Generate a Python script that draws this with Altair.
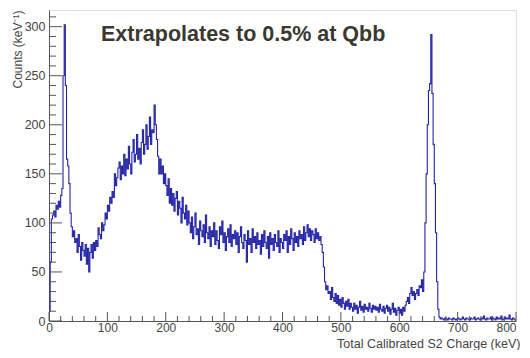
import altair as alt
import pandas as pd

# Histogram: 2 keV bins from 0 to 800 keV (counts per keV)
BIN_WIDTH = 2
counts_000_100 = [
    10, 60, 104, 108, 112, 106, 118, 114, 122, 116, 128, 135, 250, 302, 240, 165, 158, 140, 110, 96,   # 0-40
    86, 92, 80, 84, 70, 88, 76, 62, 80, 72, 66, 78, 58, 74, 50, 70, 78, 64, 80, 72,                   # 40-80
]
counts_080_200 = [
    82, 76, 95, 88, 84, 100, 92, 98, 110, 104, 118, 112, 126, 120, 132, 126, 150, 138, 146, 156,      # 80-120
    162, 144, 158, 150, 170, 148, 165, 155, 178, 160, 150, 172, 185, 162, 170, 190, 165, 176, 160, 182,  # 120-160
    195, 170, 180, 200, 175, 188, 208, 180, 195, 192, 220, 200, 185, 168, 150, 165, 150, 158, 140, 150,  # 160-200
]
counts_200_320 = [
    138, 128, 145, 120, 135, 118, 130, 112, 125, 132, 108, 122, 115, 100, 126, 110, 104, 118, 98, 112,  # 200-240
    100, 90, 106, 84, 96, 110, 88, 94, 78, 102, 92, 86, 98, 80, 108, 90, 84, 96, 76, 92,              # 240-280
    86, 100, 78, 92, 82, 74, 96, 88, 102, 80, 90, 72, 86, 94, 80, 98, 76, 88, 84, 92,                 # 280-320
]
counts_320_480 = [
    78, 90, 70, 86, 96, 80, 74, 88, 82, 60, 92, 78, 84, 70, 94, 80, 86, 74, 90, 78,                   # 320-360
    82, 68, 88, 76, 92, 80, 74, 86, 64, 90, 78, 84, 72, 88, 80, 76, 92, 70, 84, 80,                   # 360-400
    74, 88, 82, 92, 70, 86, 78, 94, 84, 72, 90, 80, 86, 76, 92, 84, 88, 78, 96, 82,                   # 400-440
    90, 98, 86, 94, 82, 92, 88, 80, 94, 84, 90, 82, 86, 78, 70, 55, 40, 32, 36, 28,                   # 440-480
]
counts_480_640 = [
    30, 22, 34, 24, 20, 28, 18, 26, 16, 22, 14, 24, 18, 12, 20, 15, 22, 12, 18, 14,                   # 480-520
    10, 18, 12, 16, 8, 14, 20, 11, 15, 9, 17, 12, 14, 10, 18, 13, 9, 16, 12, 15,                      # 520-560
    11, 14, 9, 17, 12, 10, 15, 8, 13, 16, 10, 14, 7, 12, 18, 9, 13, 6, 11, 14,                        # 560-600
    8, 12, 6, 14, 10, 16, 20, 24, 18, 28, 34, 26, 30, 22, 28, 32, 26, 36, 34, 42,                     # 600-640
]
counts_640_800 = [
    30, 50, 100, 150, 200, 235, 242, 292, 232, 180, 140, 90, 40, 12, 4, 2, 3, 2, 1, 3,                # 640-680
    2, 1, 3, 2, 2, 1, 3, 2, 1, 2, 3, 2, 1, 2, 4, 2, 1, 3, 2, 2,                                       # 680-720
    1, 3, 2, 2, 4, 1, 2, 3, 2, 1, 3, 2, 5, 2, 1, 3, 2, 2, 4, 1,                                       # 720-760
    3, 2, 1, 4, 2, 3, 2, 5, 1, 2, 4, 2, 3, 2, 6, 2, 1, 3, 2, 1,                                       # 760-800
]
counts = (counts_000_100 + counts_080_200 + counts_200_320
          + counts_320_480 + counts_480_640 + counts_640_800)
assert len(counts) == 400, len(counts)

x_major = [0, 100, 200, 300, 400, 500, 600, 700, 800]
x_minor = [v for v in range(0, 801, 20) if v % 100 != 0]
y_major = [0, 50, 100, 150, 200, 250, 300]
y_minor = [v for v in range(0, 311, 10) if v % 50 != 0]

title_text = "Extrapolates to 0.5% at Qbb"
x_title = "Total Calibrated S2 Charge (keV)"
y_title = "Counts (keV⁻¹)"

W, H = 467, 311
X_DOMAIN = [0, 800]
Y_DOMAIN = [0, 317]

edges = [i * BIN_WIDTH for i in range(len(counts))]
hist = pd.DataFrame({"e": edges + [edges[-1] + BIN_WIDTH], "c": counts + [counts[-1]]})

xs = alt.Scale(domain=X_DOMAIN, nice=False, zero=False)
ys = alt.Scale(domain=Y_DOMAIN, nice=False)

FONT = "Liberation Sans"

ax_x = alt.Axis(
    values=x_major, format="d", title=x_title, ticks=False, tickSize=0,
    labelPadding=1, labelFlush=False, grid=False, domainColor="#555", labelColor="#444",
    labelAlign={"condition": {"test": "datum.value >= 800", "value": "right"}, "value": "center"},
    labelFontSize=12, titleFontSize=12.5, titleColor="#444",
    titleFontWeight="normal", titleAlign="right",
    titleX=W + 4, titleY=26, titleBaseline="alphabetic", labelFont=FONT, titleFont=FONT,
)
ax_y = alt.Axis(
    values=y_major, format="d", title=y_title, ticks=False, tickSize=0,
    labelPadding=4, labelFlush=False, grid=False, domainColor="#555", labelColor="#444",
    labelFontSize=12.5, titleFontSize=12, titleColor="#444",
    titleFontWeight="normal", titleAngle=-90, titleAlign="right",
    titleBaseline="middle", titleX=-32, titleY=0, labelFont=FONT, titleFont=FONT,
)

line = alt.Chart(hist).mark_line(
    interpolate="step-after", color="#2424a6", strokeWidth=1.1
).encode(
    x=alt.X("e:Q", scale=xs, axis=ax_x),
    y=alt.Y("c:Q", scale=ys, axis=ax_y),
)

def xticks(vals, length):
    d = pd.DataFrame({"v": vals})
    return alt.Chart(d).mark_rule(color="#555", strokeWidth=1).encode(
        x=alt.X("v:Q", scale=xs, axis=ax_x),
        y=alt.value(H), y2=alt.value(H - length),
    )

def yticks(vals, length):
    d = pd.DataFrame({"v": vals})
    return alt.Chart(d).mark_rule(color="#555", strokeWidth=1).encode(
        y=alt.Y("v:Q", scale=ys, axis=ax_y),
        x=alt.value(0), x2=alt.value(length),
    )

title = alt.Chart(pd.DataFrame({"t": [title_text]})).mark_text(
    align="left", baseline="alphabetic", font=FONT, fontSize=21.5,
    fontWeight="bold", color="#3a3830",
).encode(text="t:N", x=alt.value(52), y=alt.value(31))

chart = alt.layer(
    line, xticks(x_major, 9), xticks(x_minor, 5), yticks(y_major, 13), yticks(y_minor, 7), title
).properties(
    width=W, height=H, autosize="none",
    padding={"left": 41, "top": 2, "right": 4, "bottom": 29},
).configure_view(stroke="#999", strokeWidth=1.2).configure(background="white")

chart.save("out.html", embed_options={"renderer": "svg", "actions": False})
